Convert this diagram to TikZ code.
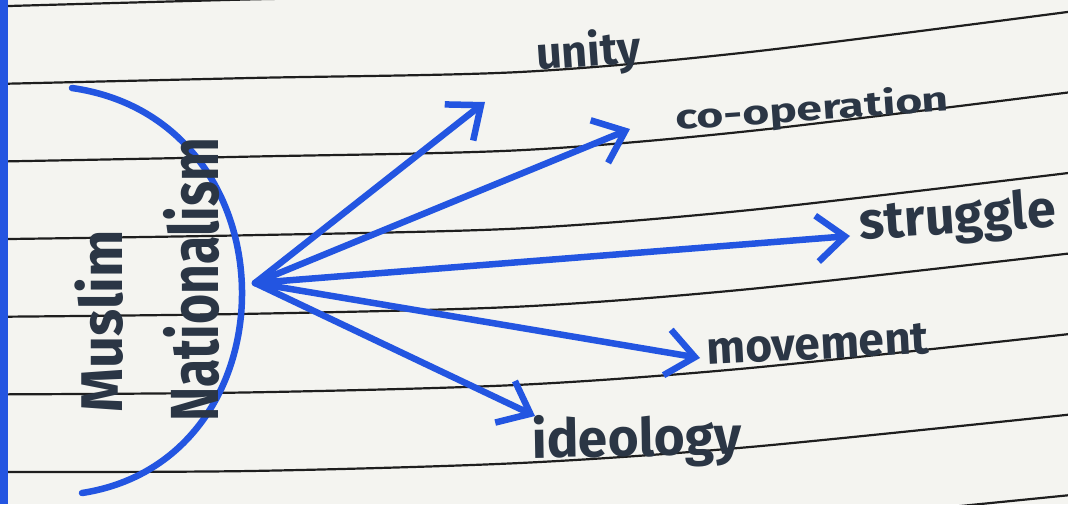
\documentclass[tikz,border=0pt]{standalone}
\usepackage{fontspec}
\setmainfont{Fira Sans}
\usetikzlibrary{arrows.meta}
\definecolor{paper}{RGB}{244,244,240}
\definecolor{rulecol}{RGB}{30,30,30}
\definecolor{pen}{RGB}{35,85,225}
\definecolor{ink}{RGB}{43,54,69}
\tikzset{
  rule/.style={draw=rulecol, line width=2.2pt},
  margin/.style={draw=pen, line width=7pt},
  penline/.style={draw=pen, line width=6.5pt, line cap=round, line join=round},
  penarrow/.style={penline, -{Straight Barb[length=28pt,width=46pt]}},
  word/.style={text=ink, inner sep=0pt, font=\bfseries},
}
\begin{document}
\begin{tikzpicture}[x=1pt,y=-1pt]
\useasboundingbox (0,0) rectangle (1068,504);
\fill[paper] (0,0) rectangle (1068,504);
% ruled lines
\foreach \k in {-1,0,...,6}{
  \draw[rule] plot[smooth] coordinates {
    (-5,{84+77.6*\k}) (250,{78+78.6*\k}) (520,{72+78.2*\k})
    (750,{52+79*\k}) (1075,{11+80.6*\k})};
}
% margin line
\draw[margin] (4,0) -- (4,504);
% left bracket arc
\draw[penline] (72,88) .. controls (297,120) and (297,460) .. (82,493);
% words
\node[word, rotate=90, anchor=base west] (muslim) at (122,413) {\fontsize{56}{56}\selectfont\scalebox{1.0}[1.05]{Muslim}};
\node[word, rotate=90, anchor=base west] (nat) at (218,422) {\fontsize{68}{68}\selectfont\scalebox{0.76}[1]{Nationalism}};
\node[word, rotate=4, anchor=base west] (unity) at (537,70) {\fontsize{45}{45}\selectfont unity};
\node[word, rotate=4, anchor=base west] (coop) at (676,130) {\fontsize{34}{34}\selectfont\scalebox{1.36}[1]{co-operation}};
\node[word, rotate=4, anchor=base west] (struggle) at (860,240) {\fontsize{52}{52}\selectfont struggle};
\node[word, rotate=3, anchor=base west] (movement) at (707,365) {\fontsize{46}{46}\selectfont movement};
\node[word, rotate=1, anchor=base west] (ideology) at (532,458) {\fontsize{53}{53}\selectfont ideology};
% arrows
\coordinate (hub) at (255,283);
\coordinate (tunity) at (485,102);
\coordinate (tcoop) at (630,129);
\coordinate (tstruggle) at (850,236);
\coordinate (tmovement) at (700,358);
\coordinate (tideology) at (535,416);
\draw[penarrow] (hub) -- (tunity);
\draw[penarrow] (hub) -- (tcoop);
\draw[penarrow] (hub) -- (tstruggle);
\draw[penarrow] (hub) -- (tmovement);
\draw[penarrow] (hub) -- (tideology);
\end{tikzpicture}
\end{document}
